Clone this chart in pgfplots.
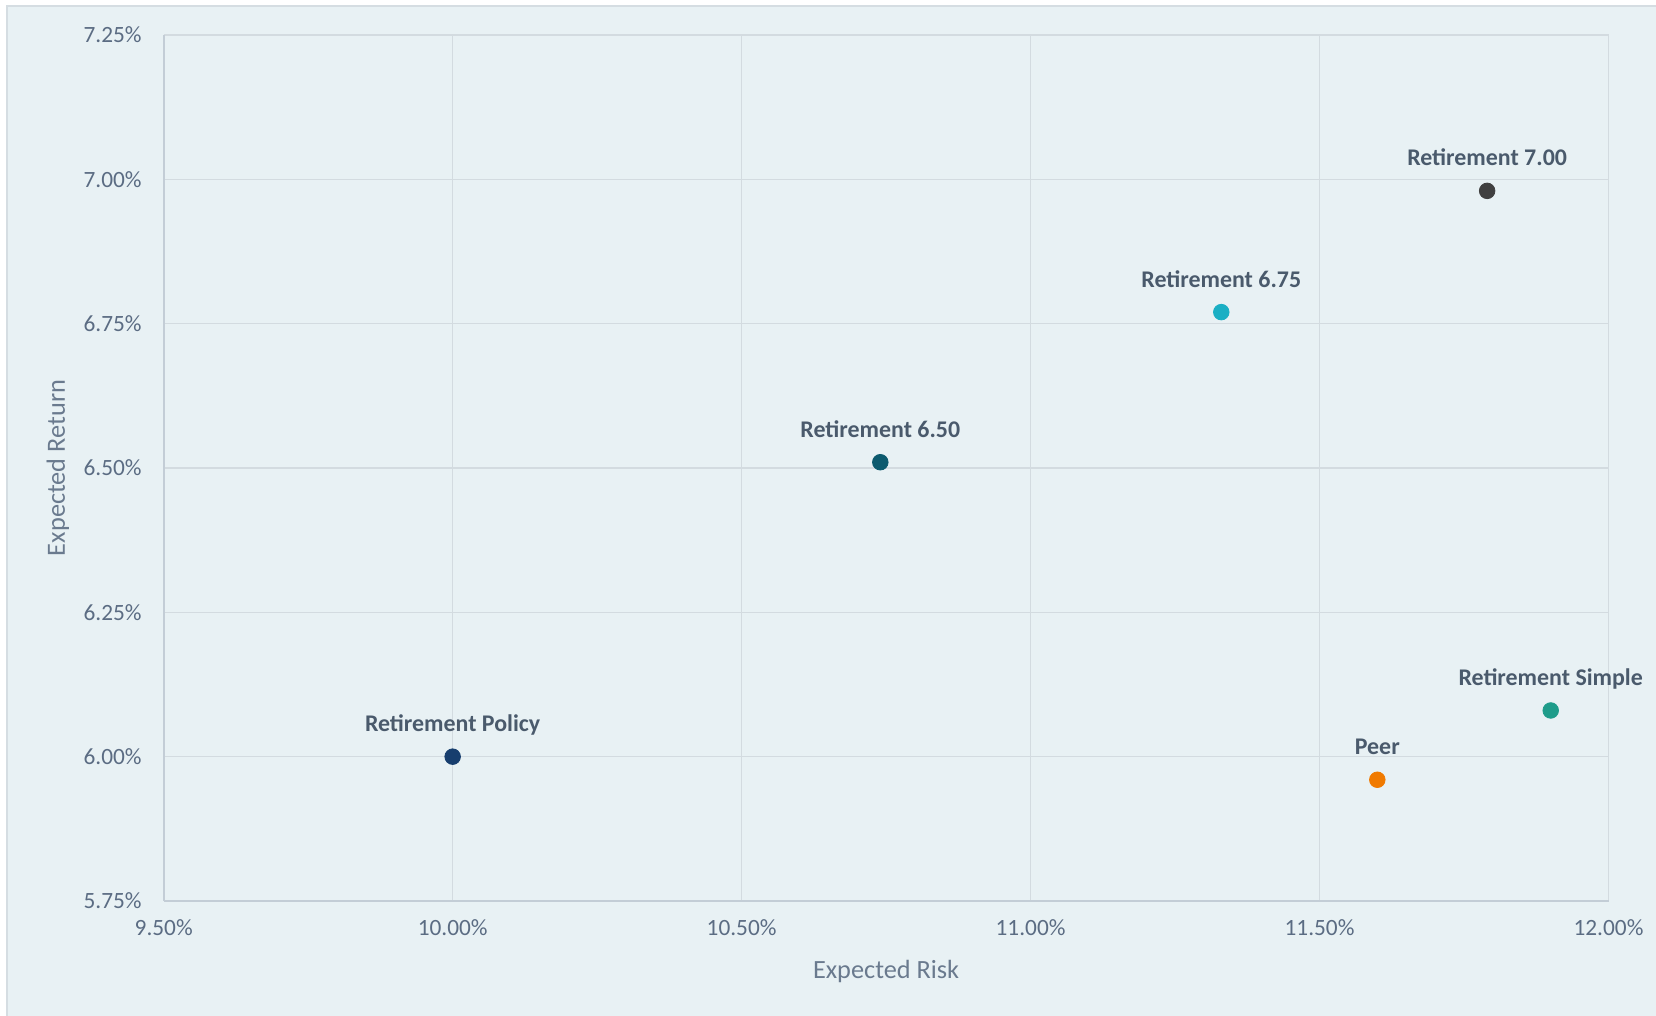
\documentclass[border=0pt]{standalone}
\usepackage{fontspec}
\setmainfont{Carlito}
\usepackage{pgfplots}
\pgfplotsset{compat=1.18}
\definecolor{bg}{HTML}{E8F1F4}
\definecolor{framec}{HTML}{D5DDE2}
\definecolor{gridc}{HTML}{D3DBE0}
\definecolor{axisc}{HTML}{C3CDD6}
\definecolor{tickc}{HTML}{5B6C83}
\definecolor{titlec}{HTML}{6A7A8E}
\definecolor{labc}{HTML}{4A5A6C}
\definecolor{cpol}{HTML}{173E6E}
\definecolor{c650}{HTML}{0C5A6E}
\definecolor{c675}{HTML}{1AAFC4}
\definecolor{c700}{HTML}{404040}
\definecolor{csim}{HTML}{1E9C8A}
\definecolor{cpeer}{HTML}{F07A00}
\begin{document}
\begin{tikzpicture}
\useasboundingbox (0,0) rectangle (828bp,508bp);
\fill[bg] (3.5bp,-10bp) rectangle (840bp,505bp);
\draw[framec, line width=1bp] (3.5bp,-10bp) -- (3.5bp,505bp) -- (840bp,505bp);
\begin{axis}[
  at={(81.85bp,57.5bp)}, anchor=south west,
  scale only axis, width=722.4bp, height=433bp,
  xmin=9.5, xmax=12, ymin=5.75, ymax=7.25,
  xtick={9.5,10,10.5,11,11.5,12},
  xticklabels={9.50\%,10.00\%,10.50\%,11.00\%,11.50\%,12.00\%},
  ytick={5.75,6,6.25,6.5,6.75,7,7.25},
  yticklabels={5.75\%,6.00\%,6.25\%,6.50\%,6.75\%,7.00\%,7.25\%},
  grid=major, major grid style={gridc, line width=0.8bp},
  axis x line*=bottom, axis y line*=left,
  axis line style={axisc, line width=0.9bp, -},
  major tick length=0pt,
  /pgf/number format/assume math mode=true,
  tick label style={font=\fontsize{11.7}{13}\selectfont, text=tickc},
  xticklabel style={yshift=-6bp},
  yticklabel style={xshift=-7.5bp},
  xlabel={Expected Risk}, ylabel={Expected Return},
  label style={font=\fontsize{13.2}{15}\selectfont, text=titlec},
  xlabel style={at={(axis description cs:0.5,-0.0815)}, anchor=center},
  ylabel style={at={(axis description cs:-0.0732,0.5)}, anchor=center},
  clip=false,
  every node near coord/.style={anchor=base, yshift=12.5bp, inner sep=0pt,
    font=\fontsize{12}{14}\selectfont\bfseries, text=labc},
]
\addplot[only marks, mark=*, mark size=3.9bp, color=cpol, nodes near coords={Retirement Policy}] coordinates {(10.00,6.00)};
\addplot[only marks, mark=*, mark size=3.9bp, color=c650, nodes near coords={Retirement 6.50}] coordinates {(10.74,6.51)};
\addplot[only marks, mark=*, mark size=3.9bp, color=c675, nodes near coords={Retirement 6.75}] coordinates {(11.33,6.77)};
\addplot[only marks, mark=*, mark size=3.9bp, color=c700, nodes near coords={Retirement 7.00}] coordinates {(11.79,6.98)};
\addplot[only marks, mark=*, mark size=3.9bp, color=csim, nodes near coords={Retirement Simple}] coordinates {(11.90,6.08)};
\addplot[only marks, mark=*, mark size=3.9bp, color=cpeer, nodes near coords={Peer}] coordinates {(11.60,5.96)};
\end{axis}
\end{tikzpicture}
\end{document}
